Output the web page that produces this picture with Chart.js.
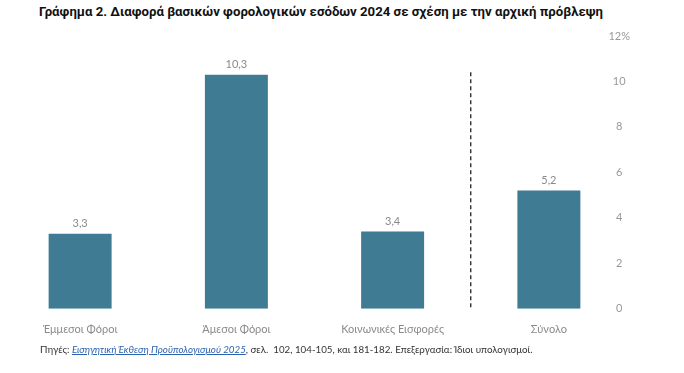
<!DOCTYPE html>
<html>
<head>
<meta charset="utf-8">
<script src="https://cdn.jsdelivr.net/npm/chart.js@4.4.1/dist/chart.umd.min.js"></script>
<style>
  body { margin:0; background:#fff; }
  #wrap { position:relative; width:684px; height:373px; overflow:hidden; }
  #titlos { position:absolute; left:39px; top:4px; font-family:Roboto, sans-serif; font-weight:bold; font-size:13.2px; color:#111; white-space:nowrap; }
  #pigi { position:absolute; left:40px; top:343px; font-family:Lato, sans-serif; font-size:9.75px; color:#333; white-space:nowrap; }
  #pigi a { color:#2a62b0; font-style:italic; text-decoration:underline; }
  canvas { position:absolute; left:0; top:0; }
</style>
</head>
<body>
<div id="wrap">
  <div id="titlos">Γράφημα 2. Διαφορά βασικών φορολογικών εσόδων 2024 σε σχέση με την αρχική πρόβλεψη</div>
  <canvas id="grafica" width="684" height="373"></canvas>
  <div id="pigi">Πηγές: <a>Εισηγητική Έκθεση Προϋπολογισμού 2025</a>, σελ.&nbsp; 102, 104-105, και 181-182. Επεξεργασία: Ίδιοι υπολογισμοί.</div>
</div>
<script>
var katigories=["Έμμεσοι Φόροι","Άμεσοι Φόροι","Κοινωνικές Εισφορές","Σύνολο"];
var diafora=[3.3,10.3,3.4,5.2];
var ytickMax=12;
var ytickStep=2;
var diaxoristisKorifi=10.4; // top of dashed separator, in axis units

var grafikoxroma='#3f7b92';
var gkri='#8a8a8a';

// dashed line between the 3rd and 4th category + value labels above the bars
var ekstraPlugin={
  id:'ekstra',
  afterDatasetsDraw:function(chart){
    var ctx=chart.ctx;
    var xs=chart.scales.x, ys=chart.scales.y;
    var xd=(xs.getPixelForValue(2)+xs.getPixelForValue(3))/2;
    ctx.save();
    ctx.strokeStyle='#222';
    ctx.lineWidth=1.3;
    ctx.setLineDash([4,3]);
    ctx.beginPath();
    ctx.moveTo(xd,ys.getPixelForValue(diaxoristisKorifi));
    ctx.lineTo(xd,ys.getPixelForValue(0));
    ctx.stroke();
    ctx.setLineDash([]);
    ctx.fillStyle=gkri;
    ctx.font='11px Lato, sans-serif';
    ctx.textAlign='center';
    ctx.textBaseline='bottom';
    chart.getDatasetMeta(0).data.forEach(function(bar,i){
      ctx.fillText(diafora[i].toFixed(1).replace('.',','),bar.x,bar.y-5);
    });
    ctx.restore();
  }
};

var graficacontexto=document.getElementById("grafica");
var grafica=new Chart(graficacontexto,{
  type:"bar",
  data:{
    labels:katigories,
    datasets:[{
      label:"Διαφορά",
      data:diafora,
      backgroundColor:grafikoxroma,
      borderWidth:0,
      categoryPercentage:1,
      barPercentage:0.403
    }]
  },
  options:{
    responsive:false,
    animation:false,
    layout:{padding:{top:36,left:2,right:0,bottom:23}},
    plugins:{legend:{display:false},tooltip:{enabled:false}},
    scales:{
      x:{
        grid:{display:false,drawTicks:false},
        border:{display:false},
        ticks:{color:gkri,font:{family:'Lato',size:11},padding:14}
      },
      y:{
        position:'right',
        min:0,max:ytickMax,
        grid:{display:false,drawTicks:false},
        border:{display:false},
        afterFit:function(scale){scale.width=57;},
        ticks:{
          stepSize:ytickStep,
          color:'#999',
          font:{family:'Lato',size:11},
          mirror:true,
          crossAlign:'center',
          padding:3,
          callback:function(v){return v===ytickMax?v+'%':v;}
        }
      }
    }
  },
  plugins:[ekstraPlugin]
});
</script>
</body>
</html>
